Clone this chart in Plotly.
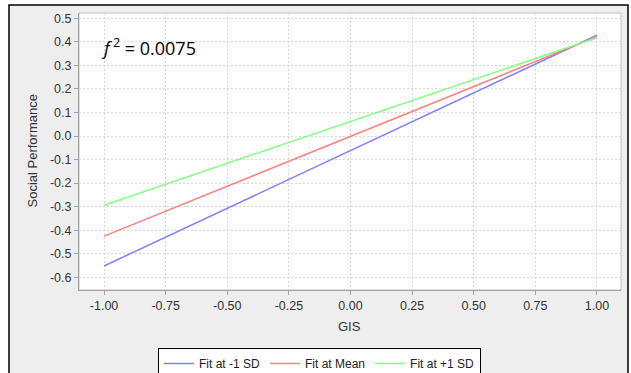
import plotly.graph_objects as go

gis = [-1.0, 1.0]
fit_minus_sd = [-0.552, 0.428]
fit_mean = [-0.425, 0.422]
fit_plus_sd = [-0.294, 0.418]
series_names = ["Fit at -1 SD", "Fit at Mean", "Fit at +1 SD"]
series_colors = ["#8080ff", "#ff8080", "#80ff80"]
y_ticks = [0.5, 0.4, 0.3, 0.2, 0.1, 0.0, -0.1, -0.2, -0.3, -0.4, -0.5, -0.6]
x_ticks = [-1.0, -0.75, -0.5, -0.25, 0.0, 0.25, 0.5, 0.75, 1.0]

W, H = 631, 373
L, R, T, B = 79, 10, 13, 83
pw, ph = W - L - R, H - T - B

def px(x):
    return (x - L) / pw

def py(y):
    return (H - B - y) / ph

fig = go.Figure()
for name, ys, c in zip(series_names, [fit_minus_sd, fit_mean, fit_plus_sd], series_colors):
    fig.add_trace(go.Scatter(x=gis, y=ys, mode="lines", name=name,
                             line=dict(color=c, width=1.5)))

font = "Liberation Sans, Arial, sans-serif"
fig.update_layout(
    width=W, height=H,
    margin=dict(l=L, r=R, t=T, b=B, autoexpand=False),
    paper_bgcolor="white", plot_bgcolor="white",
    font=dict(family=font, size=12.5, color="#333333"),
    showlegend=True,
    legend=dict(orientation="h", x=px(319.5), xanchor="center", y=py(348), yanchor="top",
                bgcolor="white", bordercolor="black", borderwidth=1,
                font=dict(size=12, color="#222222"), itemwidth=30,
                tracegroupgap=0),
    shapes=[
        dict(type="rect", xref="paper", yref="paper", layer="below",
             x0=px(9), x1=px(628), y0=py(385), y1=py(5),
             fillcolor="#eeeeee", line=dict(color="black", width=1.5)),
        dict(type="rect", xref="paper", yref="paper", layer="below",
             x0=0, x1=1, y0=0, y1=1, fillcolor="white",
             line=dict(color="#c0c0c0", width=1)),
    ],
    annotations=[
        dict(xref="paper", yref="paper", x=px(99), y=py(47),
             xanchor="left", yanchor="middle", showarrow=False,
             text="<i>f</i><sup>&nbsp;2</sup> = 0.0075",
             font=dict(family="Open Sans, Noto Sans, sans-serif", size=18, color="black")),
        dict(xref="paper", yref="paper", x=px(32), y=py(151.5),
             xanchor="center", yanchor="middle", showarrow=False, textangle=-90,
             text="Social Performance", font=dict(size=13, color="#333333")),
        dict(xref="paper", yref="paper", x=px(349), y=py(326),
             xanchor="center", yanchor="middle", showarrow=False,
             text="GIS", font=dict(size=13, color="#333333")),
    ],
)
fig.update_xaxes(range=[-1.1016, 1.0976], tickvals=x_ticks,
                 ticktext=[f"{v:.2f}" for v in x_ticks], automargin=False,
                 showgrid=True, gridcolor="#d4d4d4", griddash="2px,2px", gridwidth=1,
                 zeroline=False, showline=True, linecolor="#a0a0a0", linewidth=1,
                 ticks="outside", ticklen=4, tickcolor="#a0a0a0")
fig.update_yaxes(range=[-0.654, 0.5225], tickvals=y_ticks,
                 ticktext=[f"{v:.1f}" for v in y_ticks], automargin=False,
                 showgrid=True, gridcolor="#d4d4d4", griddash="2px,2px", gridwidth=1,
                 zeroline=False, showline=True, linecolor="#a0a0a0", linewidth=1,
                 ticks="outside", ticklen=4, tickcolor="#a0a0a0")

fig.write_html("out.html", config={"displayModeBar": False},
               post_script="document.body.style.margin='0';document.body.style.padding='0';document.body.style.overflow='hidden';")
